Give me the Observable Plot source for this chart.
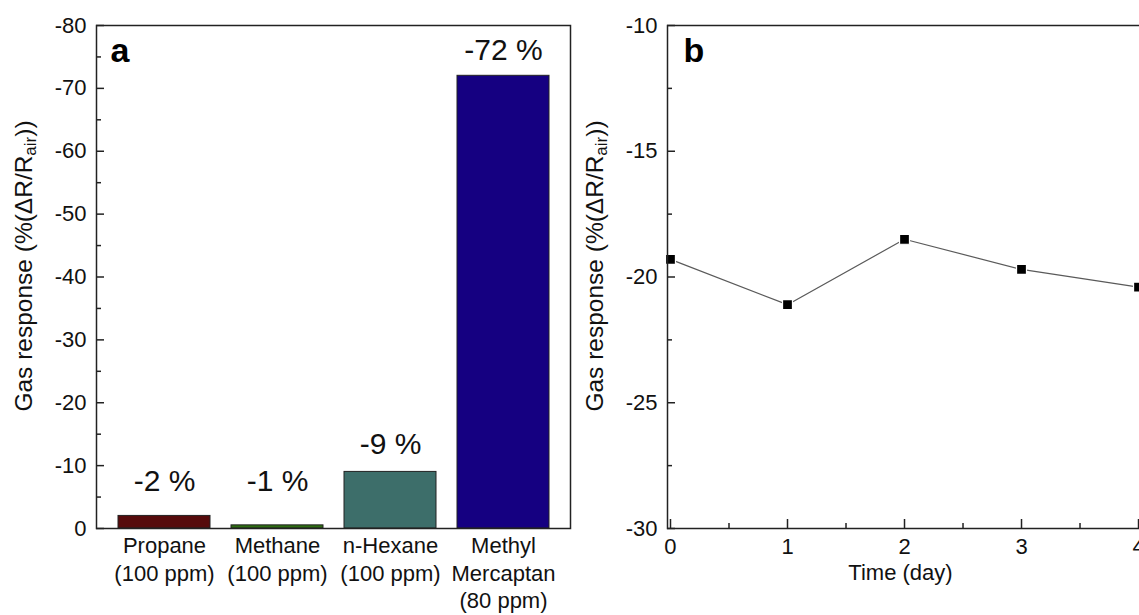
<!DOCTYPE html>
<html>
<head>
<meta charset="utf-8">
<script src="https://cdn.jsdelivr.net/npm/d3@7"></script>
<script src="https://cdn.jsdelivr.net/npm/@observablehq/plot@0.6"></script>
<style>
  html, body { margin: 0; padding: 0; background: #fff; overflow: hidden; }
  #wrap { position: relative; width: 1139px; height: 615px; overflow: hidden; font-family: "Liberation Sans", Arial, sans-serif; }
  #pa, #pb { position: absolute; top: 0; height: 615px; }
  #pa { left: 0; width: 580px; }
  #pb { left: 580px; width: 570px; }
  #pa svg, #pb svg { max-width: none !important; }
</style>
</head>
<body>
<div id="wrap"><div id="pa"></div><div id="pb"></div></div>
<script>
// ---- Panel a data ----
const gases = ["Propane\n(100 ppm)", "Methane\n(100 ppm)", "n-Hexane\n(100 ppm)", "Methyl\nMercaptan\n(80 ppm)"];
const responses = [-2, -0.5, -9, -72];
const responseLabels = ["-2 %", "-1 %", "-9 %", "-72 %"];
const labelLevels = [-7.5, -7.5, -13.4, -76.1];
const barColors = ["#560b0c", "#2e6e12", "#3d6e6a", "#150081"];
const yTicksA = [-80, -70, -60, -50, -40, -30, -20, -10, 0];
const yMinorA = [-75, -65, -55, -45, -35, -25, -15, -5];

// ---- Panel b data ----
const days = [0, 1, 2, 3, 4];
const stability = [-19.3, -21.1, -18.5, -19.7, -20.4];
const yTicksB = [-30, -25, -20, -15, -10];
const yMinorB = [-27.5, -22.5, -17.5, -12.5];
const xTicksB = [0, 1, 2, 3, 4];
const xMinorB = [0.5, 1.5, 2.5, 3.5];

const FONT = "Liberation Sans, Arial, sans-serif";
const H = 615;
const TICKFS = 22;

const barData = gases.map((g, i) => ({gas: g, value: responses[i], label: responseLabels[i], ly: labelLevels[i], color: barColors[i]}));
const lineData = days.map((d, i) => ({day: d, value: stability[i]}));

// Panel a
const aW = 580, aML = 96, aMR = 10, aMT = 25, aMB = H - 528;
const aPlotW = aW - aML - aMR;
const plotA = Plot.plot({
  width: aW, height: H,
  marginLeft: aML, marginRight: aMR, marginTop: aMT, marginBottom: aMB,
  style: {fontFamily: FONT, background: "#fff", color: "#111", overflow: "visible", maxWidth: "none"},
  x: {domain: gases, padding: 0.19, axis: null},
  y: {domain: [0, -80], axis: null},
  marks: [
    Plot.barY(barData, {x: "gas", y: "value", fill: "color", stroke: "#222", strokeWidth: 1}),
    Plot.text(barData, {x: "gas", y: "ly", text: "label", fontSize: 30, fill: "#111"}),
    Plot.axisX({label: null, tickSize: 0, tickPadding: 5, fontSize: TICKFS, lineHeight: 1.25, fill: "#111"}),
    Plot.axisY(yTicksA, {label: null, tickSize: 0, tickPadding: 10, fontSize: TICKFS, tickFormat: d => String(d), fill: "#111"}),
    Plot.tickY(yTicksA, {y: d => d, insetRight: aPlotW - 8, stroke: "#222", strokeWidth: 1.5}),
    Plot.tickY(yMinorA, {y: d => d, insetRight: aPlotW - 5, stroke: "#222", strokeWidth: 1.5}),
    Plot.frame({stroke: "#222", strokeWidth: 1.5}),
    Plot.text(["a"], {frameAnchor: "top-left", dx: 14, dy: 12, text: d => d, fontSize: 34, fontWeight: "bold", fill: "#000", textAnchor: "start", lineAnchor: "top"})
  ]
});
document.getElementById("pa").appendChild(plotA);

// Panel b
const bW = 570, bML = 87, bMR = 8, bMT = 25, bMB = H - 528;
const bPlotW = bW - bML - bMR, bPlotH = H - bMT - bMB;
const plotB = Plot.plot({
  width: bW, height: H,
  marginLeft: bML, marginRight: bMR, marginTop: bMT, marginBottom: bMB,
  style: {fontFamily: FONT, background: "#fff", color: "#111", overflow: "visible", maxWidth: "none"},
  x: {domain: [-0.0256, 4.034], axis: null},
  y: {domain: [-30, -10], axis: null},
  marks: [
    Plot.axisX(xTicksB, {label: null, tickSize: 0, tickPadding: 10, fontSize: TICKFS, tickFormat: d => String(d), fill: "#111"}),
    Plot.axisY(yTicksB, {label: null, tickSize: 0, tickPadding: 10, fontSize: TICKFS, tickFormat: d => String(d), fill: "#111"}),
    Plot.tickY(yTicksB, {y: d => d, insetRight: bPlotW - 8, stroke: "#222", strokeWidth: 1.5}),
    Plot.tickY(yMinorB, {y: d => d, insetRight: bPlotW - 5, stroke: "#222", strokeWidth: 1.5}),
    Plot.tickX(xTicksB, {x: d => d, insetTop: bPlotH - 9, stroke: "#222", strokeWidth: 1.5}),
    Plot.tickX(xMinorB, {x: d => d, insetTop: bPlotH - 5, stroke: "#222", strokeWidth: 1.5}),
    Plot.line(lineData, {x: "day", y: "value", stroke: "#5a5a5a", strokeWidth: 1.2}),
    Plot.dot(lineData, {x: "day", y: "value", symbol: "square", r: 5.6, fill: "#000", stroke: "#fff", strokeWidth: 1.2}),
    Plot.frame({stroke: "#222", strokeWidth: 1.5}),
    Plot.text(["b"], {frameAnchor: "top-left", dx: 16, dy: 12, text: d => d, fontSize: 34, fontWeight: "bold", fill: "#000", textAnchor: "start", lineAnchor: "top"}),
    Plot.text(["Time (day)"], {frameAnchor: "bottom", dy: 44, dx: 320 - bML - bPlotW / 2, text: d => d, fontSize: TICKFS, fill: "#111", lineAnchor: "middle"})
  ]
});
document.getElementById("pb").appendChild(plotB);

// Rotated y-axis titles with subscript
function addYTitle(svg, cx, cy) {
  const t = d3.select(svg).append("text")
    .attr("transform", `translate(${cx},${cy}) rotate(-90)`)
    .attr("text-anchor", "middle")
    .attr("dominant-baseline", "middle")
    .attr("font-family", FONT)
    .attr("font-size", 24.5)
    .attr("fill", "#111");
  t.append("tspan").text("Gas response (%(ΔR/R");
  t.append("tspan").text("air").attr("font-size", 17).attr("dy", 6);
  t.append("tspan").text("))").attr("dy", -6);
}
addYTitle(plotA, 26, 266);
addYTitle(plotB, 17, 266);
</script>
</body>
</html>
